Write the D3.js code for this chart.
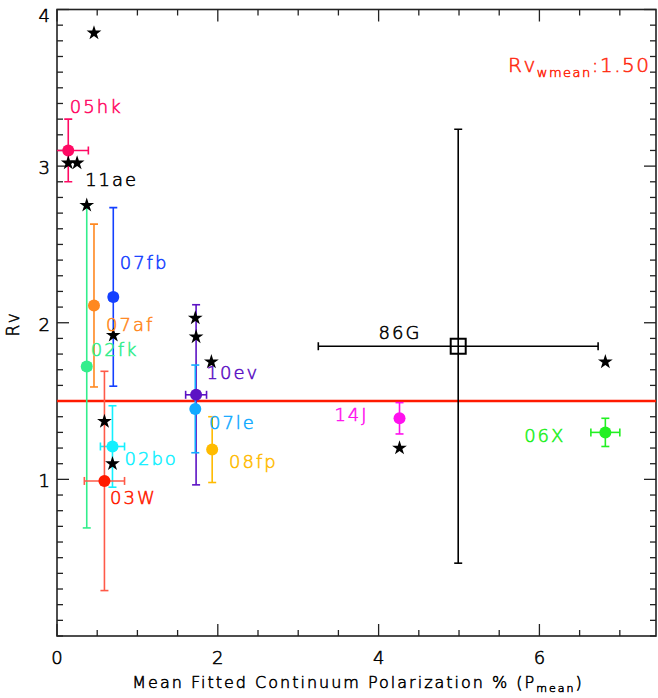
<!DOCTYPE html>
<html><head><meta charset="utf-8">
<script src="https://cdn.jsdelivr.net/npm/d3@7"></script>
<style>
body{margin:0;background:#fff;}
text{font-family:"DejaVu Sans",sans-serif;font-weight:200;stroke-width:0.55px;paint-order:stroke;}
</style></head>
<body><svg id="c" width="658" height="698"></svg>
<script>
// ---- data ----
const snNames = ["05hk","02fk","07af","07fb","10ev","07le","08fp","02bo","03W","14J","06X"];
const pMean   = [0.14, 0.37, 0.46, 0.70, 1.73, 1.72, 1.93, 0.69, 0.59, 4.26, 6.82];
const pErr    = [0.25, 0.05, 0.00, 0.05, 0.13, 0.00, 0.00, 0.15, 0.25, 0.00, 0.18];
const rv      = [3.10, 1.72, 2.11, 2.165,1.54, 1.45, 1.19, 1.21, 0.99, 1.39, 1.30];
const rvErr   = [0.20, 1.03, 0.52, 0.57, 0.575,0.28, 0.21, 0.26, 0.70, 0.10, 0.09];
const snColors= ["#ff0a64","#33ee8c","#ff8820","#1440ff","#5c12c4","#12aaff","#ffbb00","#12f0ff","#ff1a00","#ff10ee","#22f022"];
const barColors=["#ff0a64","#33ee8c","#ff8820","#1440ff","#5c12c4","#12aaff","#ffbb00","#12f0ff","#ff5a48","#ff10ee","#22f022"];

// SN 1986G (open square)
const g86 = {name:"86G", p:4.99, pErr:1.74, rv:1.85, rvErr:1.385};

// black stars
const starP  = [0.46, 0.14, 0.25, 0.37, 0.70, 1.72, 1.73, 1.92, 0.59, 0.69, 4.26, 6.82];
const starRv = [3.85, 3.02, 3.02, 2.75, 1.92, 2.03, 1.91, 1.75, 1.37, 1.10, 1.20, 1.75];

// labels (data coordinates of the label start / baseline)
const labelText  = ["05hk","11ae","07fb","07af","02fk","10ev","07le","08fp","02bo","03W","86G","14J","06X"];
const labelP     = [0.16, 0.35, 0.78, 0.61, 0.42, 1.86, 1.89, 2.14, 0.84, 0.66, 4.00, 3.45, 5.81];
const labelRv    = [3.34, 2.87, 2.34, 1.95, 1.79, 1.64, 1.32, 1.07, 1.09, 0.84, 1.895,1.37, 1.24];
const labelColor = ["#ff0a64","#000","#1440ff","#ff8820","#33ee8c","#5c12c4","#12aaff","#ffbb00","#12f0ff","#ff1a00","#000","#ff10ee","#22f022"];

const rvWmean = 1.50;
const xTicks = [0,2,4,6];
const yTicks = [1,2,3,4];

// ---- chart ----
const svg = d3.select("#c");
const x = d3.scaleLinear().domain([0,7.45]).range([57,656]);
const y = d3.scaleLinear().domain([0,4]).range([636,9.5]);
const fs = 18;

svg.append("defs").append("clipPath").attr("id","clip")
  .append("rect").attr("x",57).attr("y",9.5).attr("width",599).attr("height",626.5);

const axCol = "#222";
svg.append("rect").attr("x",57).attr("y",9.5).attr("width",599).attr("height",626.5)
  .attr("fill","none").attr("stroke",axCol).attr("stroke-width",1.6);

const xMinor = d3.range(0,7.45,0.5);
const yMinor = d3.range(0,4.0001,0.1).map(v=>+v.toFixed(2));
function isMaj(v,arr){return arr.some(t=>Math.abs(t-v)<1e-6);}
const tg = svg.append("g").attr("stroke",axCol).attr("stroke-width",1.3);
xMinor.forEach(v=>{
  const L = isMaj(v,xTicks)?12:6;
  tg.append("line").attr("x1",x(v)).attr("x2",x(v)).attr("y1",636).attr("y2",636-L);
  tg.append("line").attr("x1",x(v)).attr("x2",x(v)).attr("y1",9.5).attr("y2",9.5+L);
});
yMinor.forEach(v=>{
  const L = isMaj(v,yTicks)?12:6;
  tg.append("line").attr("y1",y(v)).attr("y2",y(v)).attr("x1",57).attr("x2",57+L);
  tg.append("line").attr("y1",y(v)).attr("y2",y(v)).attr("x1",656).attr("x2",656-L);
});
function txt(sel,col){return sel.attr("fill",col).attr("stroke",col);}
txt(svg.append("g").selectAll("text").data(xTicks).join("text")
  .attr("x",d=>x(d)).attr("y",664).attr("text-anchor","middle")
  .attr("font-size",fs).text(d=>d),"#000");
txt(svg.append("g").selectAll("text").data(yTicks).join("text")
  .attr("x",50).attr("y",d=>Math.max(y(d)+8,22)).attr("text-anchor","end")
  .attr("font-size",fs).text(d=>d),"#000");

const xt = txt(svg.append("text").attr("x",358).attr("y",688).attr("text-anchor","middle")
  .attr("font-size",16).attr("letter-spacing",2),"#000");
xt.append("tspan").text("Mean Fitted Continuum Polarization % (P");
xt.append("tspan").attr("font-size",11).attr("dy",4).text("mean");
xt.append("tspan").attr("dy",-4).text(")");
txt(svg.append("text").attr("transform","translate(19,324) rotate(-90)").attr("text-anchor","middle")
  .attr("font-size",17).attr("letter-spacing",1.5).text("Rv"),"#000");

svg.append("line").attr("x1",57).attr("x2",656).attr("y1",y(rvWmean)).attr("y2",y(rvWmean))
  .attr("stroke","#ff1a00").attr("stroke-width",2.5);

const plot = svg.append("g").attr("clip-path","url(#clip)");
const cap = 4;
function errBars(g, px, py, ex, ey, col){
  if(ey>0){
    g.append("line").attr("x1",x(px)).attr("x2",x(px)).attr("y1",y(py-ey)).attr("y2",y(py+ey)).attr("stroke",col).attr("stroke-width",1.6);
    [py-ey,py+ey].forEach(v=>g.append("line").attr("x1",x(px)-cap).attr("x2",x(px)+cap).attr("y1",y(v)).attr("y2",y(v)).attr("stroke",col).attr("stroke-width",1.6));
  }
  if(ex>0){
    g.append("line").attr("y1",y(py)).attr("y2",y(py)).attr("x1",x(px-ex)).attr("x2",x(px+ex)).attr("stroke",col).attr("stroke-width",1.6);
    [px-ex,px+ex].forEach(v=>g.append("line").attr("y1",y(py)-cap).attr("y2",y(py)+cap).attr("x1",x(v)).attr("x2",x(v)).attr("stroke",col).attr("stroke-width",1.6));
  }
}
snNames.forEach((n,i)=>errBars(plot,pMean[i],rv[i],pErr[i],rvErr[i],barColors[i]));
errBars(plot,g86.p,g86.rv,g86.pErr,g86.rvErr,"#000");

plot.selectAll("circle.sn").data(snNames).join("circle").attr("class","sn")
  .attr("cx",(d,i)=>x(pMean[i])).attr("cy",(d,i)=>y(rv[i])).attr("r",6)
  .attr("fill",(d,i)=>snColors[i]);

plot.append("rect").attr("x",x(g86.p)-7.5).attr("y",y(g86.rv)-7.5).attr("width",15).attr("height",15)
  .attr("fill","none").attr("stroke","#000").attr("stroke-width",2);

const star = d3.symbol().type(d3.symbolStar).size(68);
plot.selectAll("path.star").data(starP).join("path").attr("class","star")
  .attr("d",star).attr("transform",(d,i)=>`translate(${x(d)},${y(starRv[i])})`).attr("fill","#000");

svg.append("g").selectAll("text").data(labelText).join("text")
  .attr("x",(d,i)=>x(labelP[i])).attr("y",(d,i)=>y(labelRv[i]))
  .attr("font-size",fs).attr("letter-spacing",2)
  .attr("fill",(d,i)=>labelColor[i]).attr("stroke",(d,i)=>labelColor[i]).text(d=>d);

const rt = txt(svg.append("text").attr("x",x(5.61)).attr("y",y(3.60)).attr("font-size",fs+2)
  .attr("letter-spacing",1.5),"#ff2a10");
rt.append("tspan").text("Rv");
rt.append("tspan").attr("font-size",13).attr("dy",5).text("wmean");
rt.append("tspan").attr("dy",-5).text(":1.50");
</script></body></html>
